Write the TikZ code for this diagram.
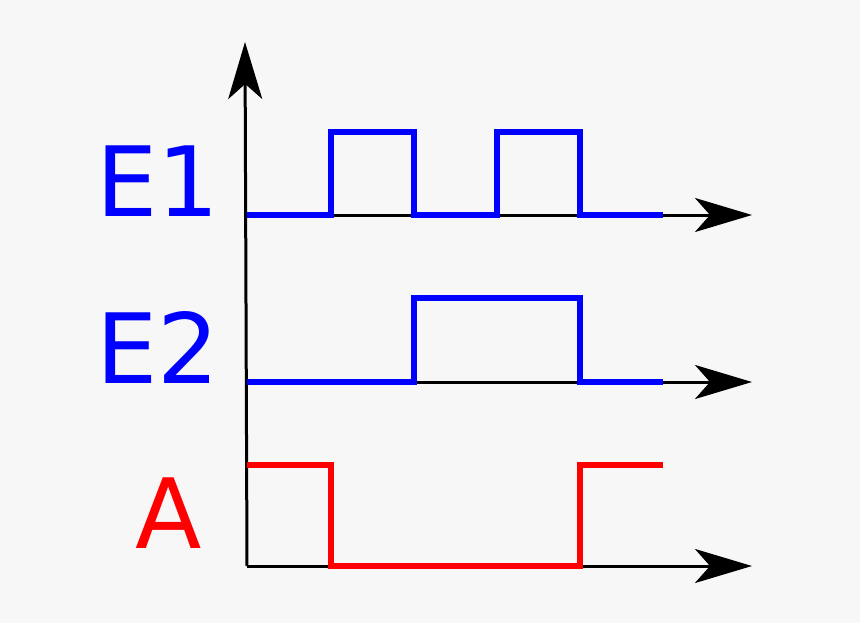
\documentclass[tikz,border=0pt]{standalone}
\usepackage{fontspec}
\setmainfont{DejaVu Sans}
\usepackage{xcolor}
\usetikzlibrary{arrows.meta,positioning,calc}
\definecolor{bgcolor}{RGB}{247,247,247}

\begin{document}
\begin{tikzpicture}[x=1pt,y=-1pt,>={Stealth[length=57pt,width=34pt,inset=15pt]},every node/.style={font=\fontsize{97}{97}\selectfont,inner sep=0pt}]
\fill[bgcolor](0,0) rectangle (860,623);
\useasboundingbox (0,0) rectangle (860,623);
\coordinate(o) at (247,566); \coordinate(top) at (245,42);
\coordinate(e1) at (247,215); \coordinate(e1end) at (752,215);
\coordinate(e2) at (247,382); \coordinate(e2end) at (752,382);
\coordinate(aend) at (752,566);
\node[anchor=base,text=blue](lE1) at (158,216){E1};
\node[anchor=base,text=blue](lE2) at (158,383){E2};
\node[anchor=base,text=red](lA) at (169,548){A};
\draw[->,line width=3pt](o)--(top); \draw[->,line width=3pt](e1)--(e1end); \draw[->,line width=3pt](e2)--(e2end); \draw[->,line width=3pt](o)--(aend);
\draw[blue,line width=6pt](e1)--(331,215)--(331,132)--(414,132)--(414,215)--(497,215)--(497,132)--(580,132)--(580,215)--(663,215);
\draw[blue,line width=6pt](e2)--(414,382)--(414,298)--(580,298)--(580,382)--(663,382);
\draw[red,line width=6pt](247,465)--(331,465)--(331,566)--(580,566)--(580,465)--(663,465);
\end{tikzpicture}
\end{document}
